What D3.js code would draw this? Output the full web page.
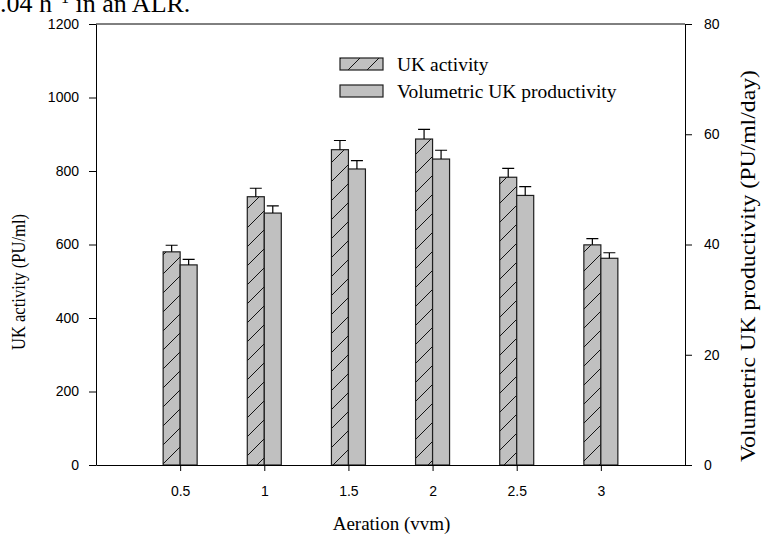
<!DOCTYPE html>
<html>
<head>
<meta charset="utf-8">
<script src="https://cdn.jsdelivr.net/npm/d3@7"></script>
<style>
	html, body {margin: 0; padding: 0; background: #fff;}
	svg {display: block;}
	.serif {font-family: "Liberation Serif", "Times New Roman", serif; font-size: 19px; fill: #000;}
</style>
</head>
<body>
<div id="chart"></div>
<script>

var aeration = [0.5, 1, 1.5, 2, 2.5, 3];
var ukActivity = [580, 730, 858, 887, 783, 599];
var ukActivityErr = [18, 23, 25, 26, 24, 17];
var volProductivity = [36.3, 45.7, 53.7, 55.5, 48.9, 37.5];
var volProductivityErr = [1.0, 1.3, 1.5, 1.6, 1.6, 1.0];

var leftTicks = [0, 200, 400, 600, 800, 1000, 1200];
var rightTicks = [0, 20, 40, 60, 80];

var WIDTH = 761;
var HEIGHT = 538;
var LEFT = 96, RIGHT = 685, TOP = 24, BOTTOM = 465;
var BAR = 17;
var CAP = 6;
var FILL = "#c0c0c0";
var EDGE = "#1e1e1e";

var svg = d3.select("#chart").append("svg")
	.attr("width", WIDTH)
	.attr("height", HEIGHT);

var x = d3.scaleLinear().domain([0, 3.5]).range([LEFT, RIGHT]);
var yL = d3.scaleLinear().domain([0, 1200]).range([BOTTOM, TOP]);
var yR = d3.scaleLinear().domain([0, 80]).range([BOTTOM, TOP]);

//HATCH PATTERN FOR UK ACTIVITY
var pat = svg.append("defs").append("pattern")
	.attr("id", "hatch")
	.attr("patternUnits", "userSpaceOnUse")
	.attr("width", 19)
	.attr("height", 19);
pat.append("rect").attr("width", 19).attr("height", 19).attr("fill", FILL);
pat.append("path")
	.attr("d", "M0,19 L19,0 M-2,2 L2,-2 M17,21 L21,17")
	.attr("stroke", "#111")
	.attr("stroke-width", 1);

//CUT-OFF CAPTION LINE FROM THE PAGE ABOVE
var cap = svg.append("text")
	.attr("class", "serif")
	.attr("x", 0)
	.attr("y", 12)
	.style("font-size", "26px");
cap.append("tspan").text(".04 h");
cap.append("tspan").attr("dy", -9).style("font-size", "16px").text("\u22121");
cap.append("tspan").attr("dy", 9).text(" in an ALR.");

//BARS
var g = svg.append("g");

g.selectAll("rect.act")
	.data(aeration)
	.enter().append("rect")
	.attr("class", "act")
	.attr("x", function(d){ return x(d) - BAR; })
	.attr("y", function(d, i){ return yL(ukActivity[i]); })
	.attr("width", BAR)
	.attr("height", function(d, i){ return yL(0) - yL(ukActivity[i]); })
	.attr("fill", "url(#hatch)")
	.attr("stroke", EDGE)
	.attr("stroke-width", 1.2);

g.selectAll("rect.vol")
	.data(aeration)
	.enter().append("rect")
	.attr("class", "vol")
	.attr("x", function(d){ return x(d); })
	.attr("y", function(d, i){ return yR(volProductivity[i]); })
	.attr("width", BAR)
	.attr("height", function(d, i){ return yR(0) - yR(volProductivity[i]); })
	.attr("fill", FILL)
	.attr("stroke", EDGE)
	.attr("stroke-width", 1.2);

//ERROR BARS (UPPER ONLY)
function errorBars(cx, top, hi){
	g.selectAll(null)
		.data(aeration)
		.enter().append("path")
		.attr("d", function(d, i){
			var c = cx(d), t = top(i), h = hi(i);
			return "M" + c + "," + t + "V" + h + "M" + (c - CAP) + "," + h + "H" + (c + CAP);
		})
		.attr("stroke", "#000")
		.attr("stroke-width", 1.2)
		.attr("fill", "none");
}
errorBars(
	function(d){ return x(d) - BAR / 2; },
	function(i){ return yL(ukActivity[i]); },
	function(i){ return yL(ukActivity[i] + ukActivityErr[i]); }
);
errorBars(
	function(d){ return x(d) + BAR / 2; },
	function(i){ return yR(volProductivity[i]); },
	function(i){ return yR(volProductivity[i] + volProductivityErr[i]); }
);

//AXES
var fmt = d3.format("d");
var axL = svg.append("g")
	.attr("transform", "translate(" + LEFT + ",0)")
	.call(d3.axisLeft(yL).tickValues(leftTicks).tickFormat(fmt).tickSize(7).tickPadding(10).tickSizeOuter(0));
var axR = svg.append("g")
	.attr("transform", "translate(" + RIGHT + ",0)")
	.call(d3.axisRight(yR).tickValues(rightTicks).tickFormat(fmt).tickSize(7).tickPadding(12).tickSizeOuter(0));
var axB = svg.append("g")
	.attr("transform", "translate(0," + BOTTOM + ")")
	.call(d3.axisBottom(x).tickValues(aeration).tickSize(6).tickPadding(15).tickSizeOuter(0)
		.tickFormat(function(d){ return String(d); }));

[axL, axR, axB].forEach(function(a){
	a.attr("font-family", "'Liberation Sans', Arial, sans-serif").attr("font-size", 14);
	a.select(".domain").attr("stroke", "#000");
	a.selectAll(".tick line").attr("stroke", "#000");
	a.selectAll(".tick text").attr("fill", "#000");
});

//TOP FRAME
svg.append("line")
	.attr("x1", LEFT).attr("x2", RIGHT)
	.attr("y1", TOP).attr("y2", TOP)
	.attr("stroke", "#000");

//AXIS TITLES
svg.append("text")
	.attr("class", "serif")
	.attr("text-anchor", "middle")
	.attr("x", (LEFT + RIGHT) / 2 + 1)
	.attr("y", 530)
	.text("Aeration (vvm)");

svg.append("text")
	.attr("class", "serif")
	.attr("text-anchor", "middle")
	.attr("transform", "translate(25,282) rotate(-90)")
	.style("font-size", "18px")
	.attr("textLength", 136)
	.attr("lengthAdjust", "spacingAndGlyphs")
	.text("UK activity (PU/ml)");

svg.append("text")
	.attr("class", "serif")
	.attr("text-anchor", "middle")
	.attr("transform", "translate(755,266) rotate(-90)")
	.style("font-size", "20px")
	.attr("textLength", 392)
	.attr("lengthAdjust", "spacingAndGlyphs")
	.text("Volumetric UK productivity (PU/ml/day)");

//LEGEND
var legend = svg.append("g");
var legendItems = [
	{"label": "UK activity", "fill": "url(#hatch)", "y": 58},
	{"label": "Volumetric UK productivity", "fill": FILL, "y": 85}
];
legendItems.forEach(function(item){
	legend.append("rect")
		.attr("x", 340).attr("y", item.y)
		.attr("width", 43).attr("height", 12)
		.attr("fill", item.fill)
		.attr("stroke", EDGE)
		.attr("stroke-width", 1.2);
	legend.append("text")
		.attr("class", "serif")
		.attr("x", 397)
		.attr("y", item.y + 13)
		.style("font-size", "19.5px")
		.text(item.label);
});

</script>
</body>
</html>
